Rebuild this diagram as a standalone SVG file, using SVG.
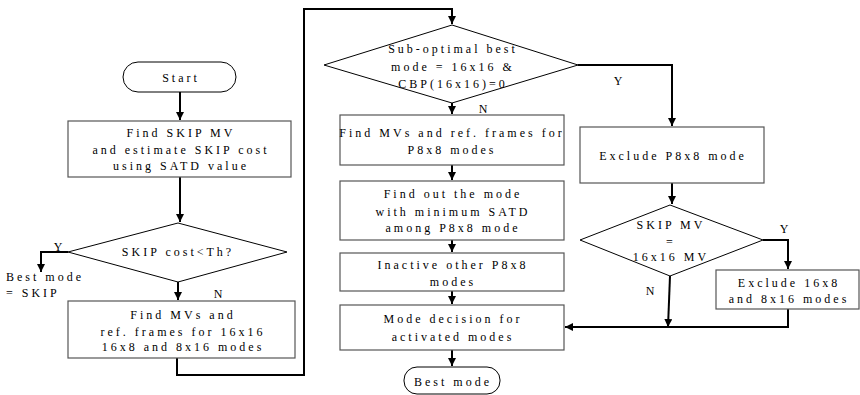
<svg xmlns="http://www.w3.org/2000/svg" width="860" height="395" viewBox="0 0 860 395">
<defs>
<marker id="ah" markerUnits="userSpaceOnUse" markerWidth="9" markerHeight="8" refX="8" refY="4" orient="auto"><path d="M0,0 L8,4 L0,8 z" fill="#000"/></marker>
<style>
.box{fill:#fff;stroke:#555;stroke-width:1.2}
.dia{fill:#fff;stroke:#000;stroke-width:1}
.term{fill:#fff;stroke:#000;stroke-width:1}
.t{font-family:"Liberation Serif","Times New Roman",serif;font-size:12px;letter-spacing:3px;text-anchor:middle;fill:#000}
.l{font-family:"Liberation Serif","Times New Roman",serif;font-size:12px;text-anchor:middle;fill:#000}
.tl{font-family:"Liberation Serif","Times New Roman",serif;font-size:12px;letter-spacing:3px;fill:#000}
.c{fill:none;stroke:#000;stroke-width:2}
</style>
</defs>
<rect width="860" height="395" fill="#fff"/>
<g id="connectors">
<path class="c" d="M180,92 V120" marker-end="url(#ah)"/>
<path class="c" d="M180,177 V222" marker-end="url(#ah)"/>
<path class="c" d="M68,252 H41 V272" marker-end="url(#ah)"/>
<path class="c" d="M178,282 V300" marker-end="url(#ah)"/>
<path class="c" d="M177,358 V375 H304 V9 H452 V24" marker-end="url(#ah)"/>
<path class="c" d="M452,103 V114" marker-end="url(#ah)"/>
<path class="c" d="M452,165 V180" marker-end="url(#ah)"/>
<path class="c" d="M452,240 V252" marker-end="url(#ah)"/>
<path class="c" d="M452,291 V304" marker-end="url(#ah)"/>
<path class="c" d="M452,350 V366" marker-end="url(#ah)"/>
<path class="c" d="M578,65 H672 V126" marker-end="url(#ah)"/>
<path class="c" d="M672,183 V204" marker-end="url(#ah)"/>
<path class="c" d="M763,240 H788 V269" marker-end="url(#ah)"/>
<path class="c" d="M670,276 L668,327" marker-end="url(#ah)"/>
<path class="c" d="M788,309 V327 H565" marker-end="url(#ah)"/>
<text class="l" x="58" y="251">Y</text>
<text class="l" x="218" y="298">N</text>
<text class="l" x="483" y="113">N</text>
<text class="l" x="618" y="85">Y</text>
<text class="l" x="784" y="233">Y</text>
<text class="l" x="650" y="295">N</text>
</g>
<g id="start">
<rect class="term" x="123" y="62" width="113" height="30" rx="15"/>
<text class="t" x="181" y="82">Start</text>
</g>
<g id="find-skip">
<rect class="box" x="68" y="121" width="223" height="56"/>
<text class="t" x="181" y="137">Find SKIP MV</text>
<text class="t" x="181" y="154">and estimate SKIP cost</text>
<text class="t" x="181" y="170">using SATD value</text>
</g>
<g id="skip-cost">
<polygon class="dia" points="178,223 287,252 178,282 68,252"/>
<text class="t" x="178" y="256">SKIP cost&lt;Th?</text>
</g>
<g id="best-skip">
<text class="tl" x="6" y="281">Best mode</text>
<text class="tl" x="6" y="297">= SKIP</text>
</g>
<g id="find-16">
<rect class="box" x="68" y="301" width="227" height="57"/>
<text class="t" x="183" y="319">Find MVs and</text>
<text class="t" x="183" y="336">ref. frames for 16x16</text>
<text class="t" x="183" y="351">16x8 and 8x16 modes</text>
</g>
<g id="sub-optimal">
<polygon class="dia" points="452,25 578,65 452,103 324,65"/>
<text class="t" x="453" y="53">Sub-optimal best</text>
<text class="t" x="453" y="71">mode = 16x16 &amp;</text>
<text class="t" x="453" y="88">CBP(16x16)=0</text>
</g>
<g id="find-p8">
<rect class="box" x="340" y="115" width="224" height="50"/>
<text class="t" x="452" y="137">Find MVs and ref. frames for</text>
<text class="t" x="452" y="154">P8x8 modes</text>
</g>
<g id="min-satd">
<rect class="box" x="340" y="181" width="224" height="59"/>
<text class="t" x="453" y="198">Find out the mode</text>
<text class="t" x="453" y="216">with minimum SATD</text>
<text class="t" x="453" y="232">among P8x8 mode</text>
</g>
<g id="inactive">
<rect class="box" x="340" y="253" width="224" height="38"/>
<text class="t" x="453" y="269">Inactive other P8x8</text>
<text class="t" x="453" y="286">modes</text>
</g>
<g id="mode-decision">
<rect class="box" x="340" y="305" width="224" height="45"/>
<text class="t" x="453" y="323">Mode decision for</text>
<text class="t" x="453" y="341">activated modes</text>
</g>
<g id="best-mode">
<rect class="term" x="404" y="367" width="96" height="27" rx="13"/>
<text class="t" x="453" y="386">Best mode</text>
</g>
<g id="exclude-p8">
<rect class="box" x="580" y="127" width="184" height="56"/>
<text class="t" x="673" y="160">Exclude P8x8 mode</text>
</g>
<g id="skip-mv">
<polygon class="dia" points="670,205 763,240 670,276 580,240"/>
<text class="t" x="671" y="229">SKIP MV</text>
<text class="t" x="671" y="246">=</text>
<text class="t" x="671" y="261">16x16 MV</text>
</g>
<g id="exclude-16">
<rect class="box" x="716" y="270" width="143" height="39"/>
<text class="t" x="789" y="287">Exclude 16x8</text>
<text class="t" x="789" y="303">and 8x16 modes</text>
</g>
</svg>
